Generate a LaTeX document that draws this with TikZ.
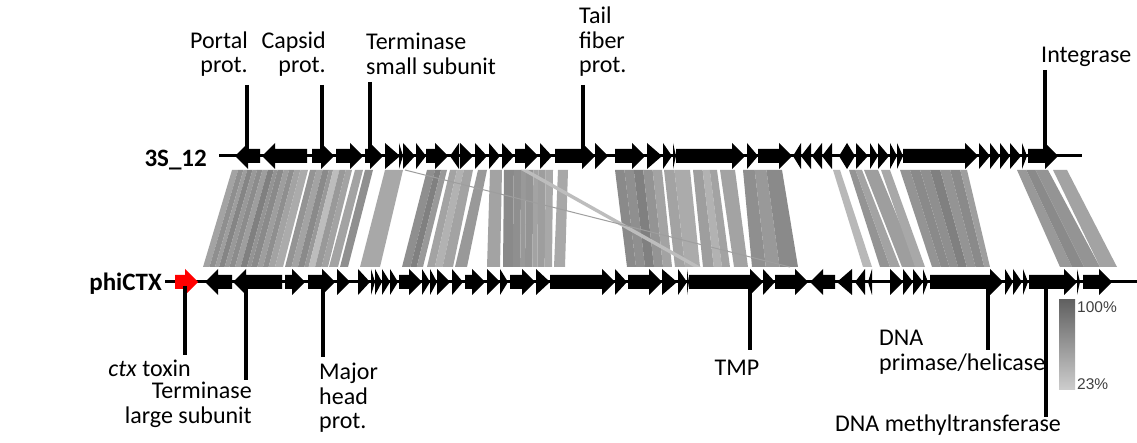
\documentclass[tikz,border=0pt]{standalone}
\usepackage{fontspec}
\setmainfont{Carlito}
\newfontfamily\legfont{Liberation Sans}
\definecolor{ctxred}{HTML}{FF0000}
\newcommand\gy{156}
\newcommand\hh{13}
\newcommand\bh{7}
\newcommand\hl{13}
% rightward gene with body
\newcommand\gR[2]{\fill[genefill] ({#1},{\gy-\bh}) -- ({#2-\hl},{\gy-\bh}) -- ({#2-\hl},{\gy-\hh}) -- ({#2},{\gy}) -- ({#2-\hl},{\gy+\hh}) -- ({#2-\hl},{\gy+\bh}) -- ({#1},{\gy+\bh}) -- cycle;}
% leftward gene with body (#1 tip, #2 end)
\newcommand\gL[2]{\fill[genefill] ({#2},{\gy-\bh}) -- ({#1+\hl},{\gy-\bh}) -- ({#1+\hl},{\gy-\hh}) -- ({#1},{\gy}) -- ({#1+\hl},{\gy+\hh}) -- ({#1+\hl},{\gy+\bh}) -- ({#2},{\gy+\bh}) -- cycle;}
% triangles only
\newcommand\tR[2]{\fill[genefill] ({#1},{\gy-\hh}) -- ({#2},{\gy}) -- ({#1},{\gy+\hh}) -- cycle;}
\newcommand\tL[2]{\fill[genefill] ({#2},{\gy-\hh}) -- ({#1},{\gy}) -- ({#2},{\gy+\hh}) -- cycle;}
% comparison block: top x1 x2, bottom x1 x2, stripes frac/frac/shade
\newcommand\blk[5]{\foreach \fa/\fb/\s in {#5}{\fill[black!\s] ({#1+\fa*(#2-#1)},170) -- ({#1+\fb*(#2-#1)},170) -- ({#3+\fb*(#4-#3)},267) -- ({#3+\fa*(#4-#3)},267) -- cycle;}}
\begin{document}
\begin{tikzpicture}[x=1pt,y=-1pt,
  genefill/.style={black},
  lab/.style={font=\fontsize{24}{24.5}\selectfont, inner sep=0pt},
  trk/.style={font=\fontsize{25}{27}\selectfont\bfseries, inner sep=0pt},
  leg/.style={font=\legfont\fontsize{15.5}{17}\selectfont, text=black!75, inner sep=0pt},
  lead/.style={line width=3.6pt},
  backbone/.style={line width=3pt}]
\useasboundingbox (0,0) rectangle (1137,443);
\fill[white] (0,0) rectangle (1137,443);

% ---------- comparison band ----------
\blk{232}{308}{203}{283}{0/.08/36, .08/.15/44, .15/.2/38, .2/.27/48, .27/.33/40, .33/.4/45, .4/.47/38, .47/.55/50, .55/.6/42, .6/.68/46, .68/.75/38, .75/.82/44, .82/.9/36, .9/1/33}
\blk{310}{352}{285}{328}{0/.15/42, .15/.3/36, .3/.45/46, .45/.55/40, .55/.7/26, .7/.85/40, .85/1/36}
\blk{355}{363}{329}{338}{0/1/36}
\blk{365}{373}{340}{348}{0/1/44}
\blk{385}{403}{360}{380}{0/1/34}
\blk{427}{447}{402}{423}{0/.4/44, .4/.7/50, .7/1/40}
\blk{450}{473}{427}{453}{0/.3/36, .3/.6/30, .6/1/36}
\blk{478}{487}{455}{467}{0/1/40}
\blk{490}{502}{487}{500}{0/1/36}
\blk{504}{553}{503}{552}{0/.2/46, .2/.35/44, .35/.45/40, .45/.6/42, .6/.7/36, .7/.85/38, .85/1/34}
\blk{558}{568}{554}{565}{0/1/34}
\blk{615}{662}{627}{672}{0/.2/46, .2/.4/44, .4/.6/50, .6/.8/42, .8/1/36}
\blk{664}{690}{675}{700}{0/.4/36, .4/1/33}
\blk{693}{717}{703}{730}{0/.4/38, .4/.7/30, .7/1/36}
\blk{720}{735}{734}{748}{0/1/36}
\blk{743}{782}{752}{798}{0/.3/44, .3/.6/40, .6/1/46}
\blk{833}{840}{863}{872}{0/1/28}
\blk{849}{862}{880}{900}{0/.5/42, .5/1/36}
\blk{864}{878}{902}{918}{0/1/38}
\blk{881}{890}{915}{925}{0/1/34}
\blk{900}{967}{932}{990}{0/.15/42, .15/.3/46, .3/.45/44, .45/.6/50, .6/.75/42, .75/.9/46, .9/1/38}
\blk{1017}{1048}{1060}{1100}{0/.3/40, .3/.6/46, .6/1/42}
\blk{1053}{1067}{1100}{1117}{0/1/36}
% crossing matches
\fill[black!26] (521,170) -- (528,170) -- (701,267) -- (694,267) -- cycle;
\draw[black!38, line width=1pt] (405,170) -- (790,267);

% ---------- legend ----------
\shade[top color=black!62, bottom color=black!20] (1059,300) rectangle (1075,389);
\node[leg, anchor=west] (l100) at (1077,307) {100\%};
\node[leg, anchor=west] (l23) at (1077,384) {23\%};

% ---------- top genome 3S_12 ----------
\renewcommand\gy{156}
\coordinate (tS) at (219,156);
\coordinate (tE) at (1082,156);
\draw[backbone] (tS) -- (tE);
\gL{235}{260}
\gL{262}{307}
\gR{312}{334}
\gR{336}{363}
\gR{365}{383}
\foreach \a/\b in {385/400, 399/403, 403/415, 416/426} {\tR{\a}{\b}}
\gR{426}{448}
\tL{450}{459}
\foreach \a/\b in {460/473, 475/487, 489/500, 502/514} {\tR{\a}{\b}}
\gR{515}{538}
\tR{540}{552}
\gR{555}{595}
\tR{595}{608}
\gR{615}{645}
\foreach \a/\b in {647/662, 663/672, 673/676} {\tR{\a}{\b}}
\gR{676}{745}
\tR{747}{758}
\gR{758}{792}
\foreach \a/\b in {793/801, 801/811, 812/822, 822/832, 839/847} {\tL{\a}{\b}}
\foreach \a/\b in {847/855, 856/868, 870/878, 878/889, 890/897, 897/903} {\tR{\a}{\b}}
\gR{903}{978}
\foreach \a/\b in {979/990, 990/1000, 1000/1010, 1010/1021, 1022/1027} {\tR{\a}{\b}}
\gR{1028}{1058}

% ---------- bottom genome phiCTX ----------
\renewcommand\gy{282}
\coordinate (bS) at (165,282);
\coordinate (bE) at (1137,282);
\draw[backbone] (bS) -- (bE);
\begingroup\tikzset{genefill/.style={ctxred}}\gR{175}{198}\endgroup
\gL{205}{232}
\gL{233}{282}
\gR{285}{305}
\gR{308}{335}
\tR{337}{350}
\foreach \a/\b in {358/370, 371/375, 375/382, 382/390, 390/398} {\tR{\a}{\b}}
\gR{399}{422}
\foreach \a/\b in {422/430, 430/437, 437/450, 452/463} {\tR{\a}{\b}}
\gR{465}{485}
\foreach \a/\b in {487/500, 500/508} {\tR{\a}{\b}}
\gR{510}{535}
\tR{536}{550}
\gR{550}{615}
\tR{615}{627}
\gR{628}{662}
\foreach \a/\b in {662/677, 678/687, 687/689} {\tR{\a}{\b}}
\gR{689}{763}
\tR{763}{775}
\gR{775}{808}
\gL{810}{835}
\foreach \a/\b in {837/852, 855/865, 868/872} {\tL{\a}{\b}}
\foreach \a/\b in {890/903, 903/913, 913/923, 923/928} {\tR{\a}{\b}}
\gR{930}{1003}
\foreach \a/\b in {1005/1013, 1013/1022, 1023/1028} {\tR{\a}{\b}}
\gR{1029}{1077}
\tR{1077}{1080}
\gR{1083}{1112}

% ---------- track names ----------
\node[trk, anchor=east] (n3s) at (207,160) {3S\_12};
\node[trk, anchor=east] (nphi) at (162,284) {phiCTX};

% ---------- top annotations ----------
\node[lab, anchor=east, align=right] (portal) at (248,54) {Portal\\prot.};
\node[lab, anchor=east, align=right] (capsid) at (326,54) {Capsid\\prot.};
\node[lab, anchor=west, align=left] (terms) at (366,54) {Terminase\\small subunit};
\node[lab, anchor=west, align=left] (tail) at (579,42) {Tail\\fiber\\prot.};
\node[lab, anchor=west] (integ) at (1041,57) {Integrase};
\coordinate (portalT) at (247,85);   \coordinate (portalG) at (247,152);
\coordinate (capsidT) at (322,85);   \coordinate (capsidG) at (322,152);
\coordinate (termsT) at (370,82);    \coordinate (termsG) at (370,152);
\coordinate (tailT) at (583,85);     \coordinate (tailG) at (583,152);
\coordinate (integT) at (1045,70);   \coordinate (integG) at (1045,152);
\draw[lead] (portalT) -- (portalG);
\draw[lead] (capsidT) -- (capsidG);
\draw[lead] (termsT) -- (termsG);
\draw[lead] (tailT) -- (tailG);
\draw[lead] (integT) -- (integG);

% ---------- bottom annotations ----------
\node[lab, anchor=east] (ctx) at (191,368) {\textit{ctx} toxin};
\node[lab, anchor=east, align=right] (terml) at (252,405) {Terminase\\large subunit};
\node[lab, anchor=west, align=left] (major) at (319,398) {Major\\head\\prot.};
\node[lab] (tmp) at (737,368) {TMP};
\node[lab, anchor=west, align=left] (dnap) at (879,352) {DNA\\primase/helicase};
\node[lab] (dnam) at (948,425) {DNA methyltransferase};
\coordinate (ctxG) at (185,286);   \coordinate (ctxB) at (185,355);
\coordinate (termlG) at (246,286); \coordinate (termlB) at (246,380);
\coordinate (majorG) at (323,286); \coordinate (majorB) at (323,357);
\coordinate (tmpG) at (750,286);   \coordinate (tmpB) at (750,350);
\coordinate (dnapG) at (988,286);  \coordinate (dnapB) at (988,350);
\coordinate (dnamG) at (1046,286); \coordinate (dnamB) at (1046,417);
\draw[lead] (ctxG) -- (ctxB);
\draw[lead] (termlG) -- (termlB);
\draw[lead] (majorG) -- (majorB);
\draw[lead] (tmpG) -- (tmpB);
\draw[lead] (dnapG) -- (dnapB);
\draw[lead] (dnamG) -- (dnamB);
\end{tikzpicture}
\end{document}
